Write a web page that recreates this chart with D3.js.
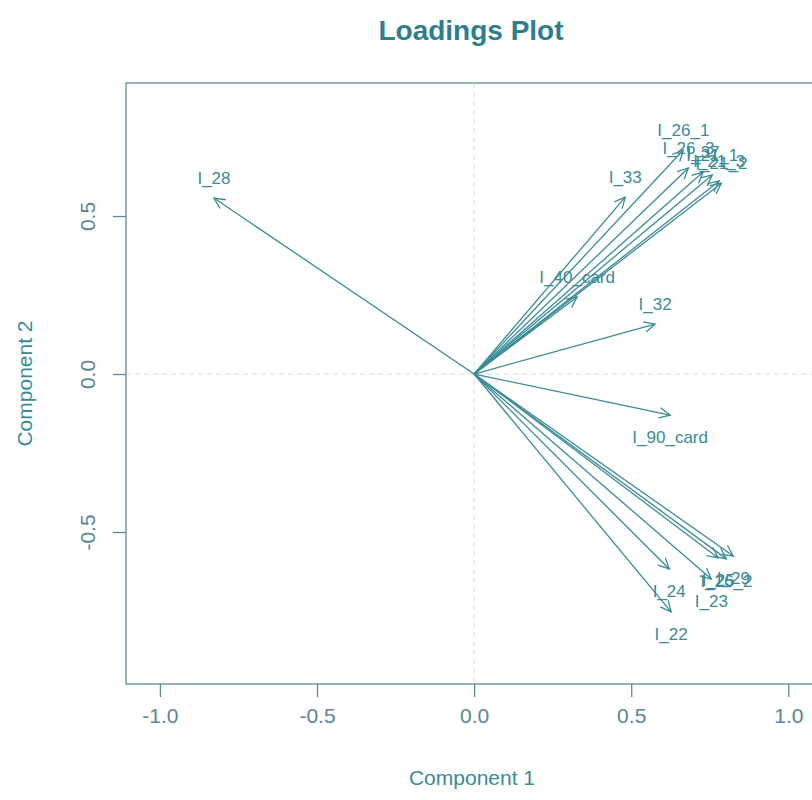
<!DOCTYPE html>
<html>
<head>
<meta charset="utf-8">
<script src="https://cdn.jsdelivr.net/npm/d3@7"></script>
<style>
  body { margin: 0; background: #fff; }
  text { font-family: "Liberation Sans", Arial, sans-serif; }
</style>
</head>
<body>
<div id="chart"></div>
<script>
// loadings
const variables = ["I_28", "I_33", "I_40_card", "I_32", "I_90_card",
  "I_26_1", "I_26_3", "I_37", "I_21_1", "I_21_3", "I_21_2",
  "I_22", "I_24", "I_23", "I_25", "I_26_2", "I_29"];
const comp1 = [-0.828, 0.481, 0.328, 0.576, 0.624,
  0.666, 0.682, 0.729, 0.758, 0.780, 0.787,
  0.627, 0.621, 0.755, 0.777, 0.803, 0.825];
const comp2 = [0.557, 0.560, 0.244, 0.158, -0.130,
  0.709, 0.652, 0.639, 0.630, 0.611, 0.604,
  -0.753, -0.617, -0.649, -0.582, -0.585, -0.576];
const xTicks = [-1.0, -0.5, 0.0, 0.5, 1.0];
const yTicks = [-0.5, 0.0, 0.5];

const W = 812, H = 800;
const margin = { top: 83, right: -14, bottom: 116, left: 126 };
const width = W - margin.left - margin.right,
  height = H - margin.top - margin.bottom;

const teal = "#3a8b97", axisCol = "#5d8b94";
// plain hyphen for negatives, like the reference
const fmt = d => d3.format(".1f")(d).replace("\u2212", "-");

const svg = d3.select("#chart").append("svg")
  .attr("width", W).attr("height", H);

const g = svg.append("g")
  .attr("transform", `translate(${margin.left},${margin.top})`);

const x = d3.scaleLinear().domain([-1.108, 1.12]).range([0, width]);
const y = d3.scaleLinear().domain([-0.981, 0.921]).range([height, 0]);

// title
svg.append("text")
  .attr("x", 471).attr("y", 40)
  .attr("text-anchor", "middle")
  .style("font-size", "28px").style("font-weight", "bold")
  .style("fill", "#2f7e8d")
  .text("Loadings Plot");

// box
g.append("rect")
  .attr("width", width).attr("height", height)
  .attr("fill", "none").attr("stroke", axisCol).attr("stroke-width", 1.3);

// zero reference lines
g.append("line")
  .attr("x1", x(0)).attr("x2", x(0)).attr("y1", 0).attr("y2", height)
  .attr("stroke", "#d5dcde").attr("stroke-dasharray", "5,4");
g.append("line")
  .attr("x1", 0).attr("x2", width).attr("y1", y(0)).attr("y2", y(0))
  .attr("stroke", "#d5dcde").attr("stroke-dasharray", "5,4");

// axes
const xAxis = g.append("g")
  .attr("transform", `translate(0,${height})`)
  .call(d3.axisBottom(x).tickValues(xTicks).tickFormat(fmt)
    .tickSize(13).tickPadding(8));
const yAxis = g.append("g")
  .call(d3.axisLeft(y).tickValues(yTicks).tickFormat(fmt)
    .tickSize(13).tickPadding(8));
[xAxis, yAxis].forEach(a => {
  a.select(".domain").remove();
  a.selectAll(".tick line").attr("stroke", axisCol).attr("stroke-width", 1.3);
  a.selectAll(".tick text").style("font-size", "21px").style("fill", "#5a8790")
    .style("font-family", "Liberation Sans, Arial, sans-serif");
});
// rotate y tick labels around the tick position
yAxis.selectAll(".tick text")
  .attr("x", 0).attr("y", 0).attr("dy", "0.35em")
  .attr("transform", "translate(-38,0) rotate(-90)")
  .style("text-anchor", "middle");
xAxis.selectAll(".tick text").attr("dy", "0.85em");

// axis titles
svg.append("text")
  .attr("x", 472).attr("y", 785)
  .attr("text-anchor", "middle")
  .style("font-size", "21px").style("fill", teal)
  .text("Component 1");
svg.append("text")
  .attr("transform", `translate(32,${margin.top + height / 2}) rotate(-90)`)
  .attr("text-anchor", "middle")
  .style("font-size", "21px").style("fill", teal)
  .text("Component 2");

// arrows
const loadings = variables.map((v, i) => ({ name: v, c1: comp1[i], c2: comp2[i] }));

const arrows = g.append("g");
loadings.forEach(d => {
  const x0 = x(0), y0 = y(0), x1 = x(d.c1), y1 = y(d.c2);
  const ang = Math.atan2(y1 - y0, x1 - x0);
  const len = 12, spread = Math.PI / 7;
  arrows.append("line")
    .attr("x1", x0).attr("y1", y0).attr("x2", x1).attr("y2", y1)
    .attr("stroke", teal).attr("stroke-width", 1.3);
  arrows.append("path")
    .attr("d", d3.line()([
      [x1 - len * Math.cos(ang - spread), y1 - len * Math.sin(ang - spread)],
      [x1, y1],
      [x1 - len * Math.cos(ang + spread), y1 - len * Math.sin(ang + spread)]
    ]))
    .attr("fill", "none").attr("stroke", teal).attr("stroke-width", 1.3);
});

// labels
g.append("g").selectAll("text")
  .data(loadings)
  .enter().append("text")
  .attr("x", d => x(d.c1))
  .attr("y", d => y(d.c2) + (d.c2 >= 0 ? -14 : 28))
  .attr("text-anchor", "middle")
  .style("font-size", "17px").style("fill", teal)
  .text(d => d.name);
</script>
</body>
</html>
